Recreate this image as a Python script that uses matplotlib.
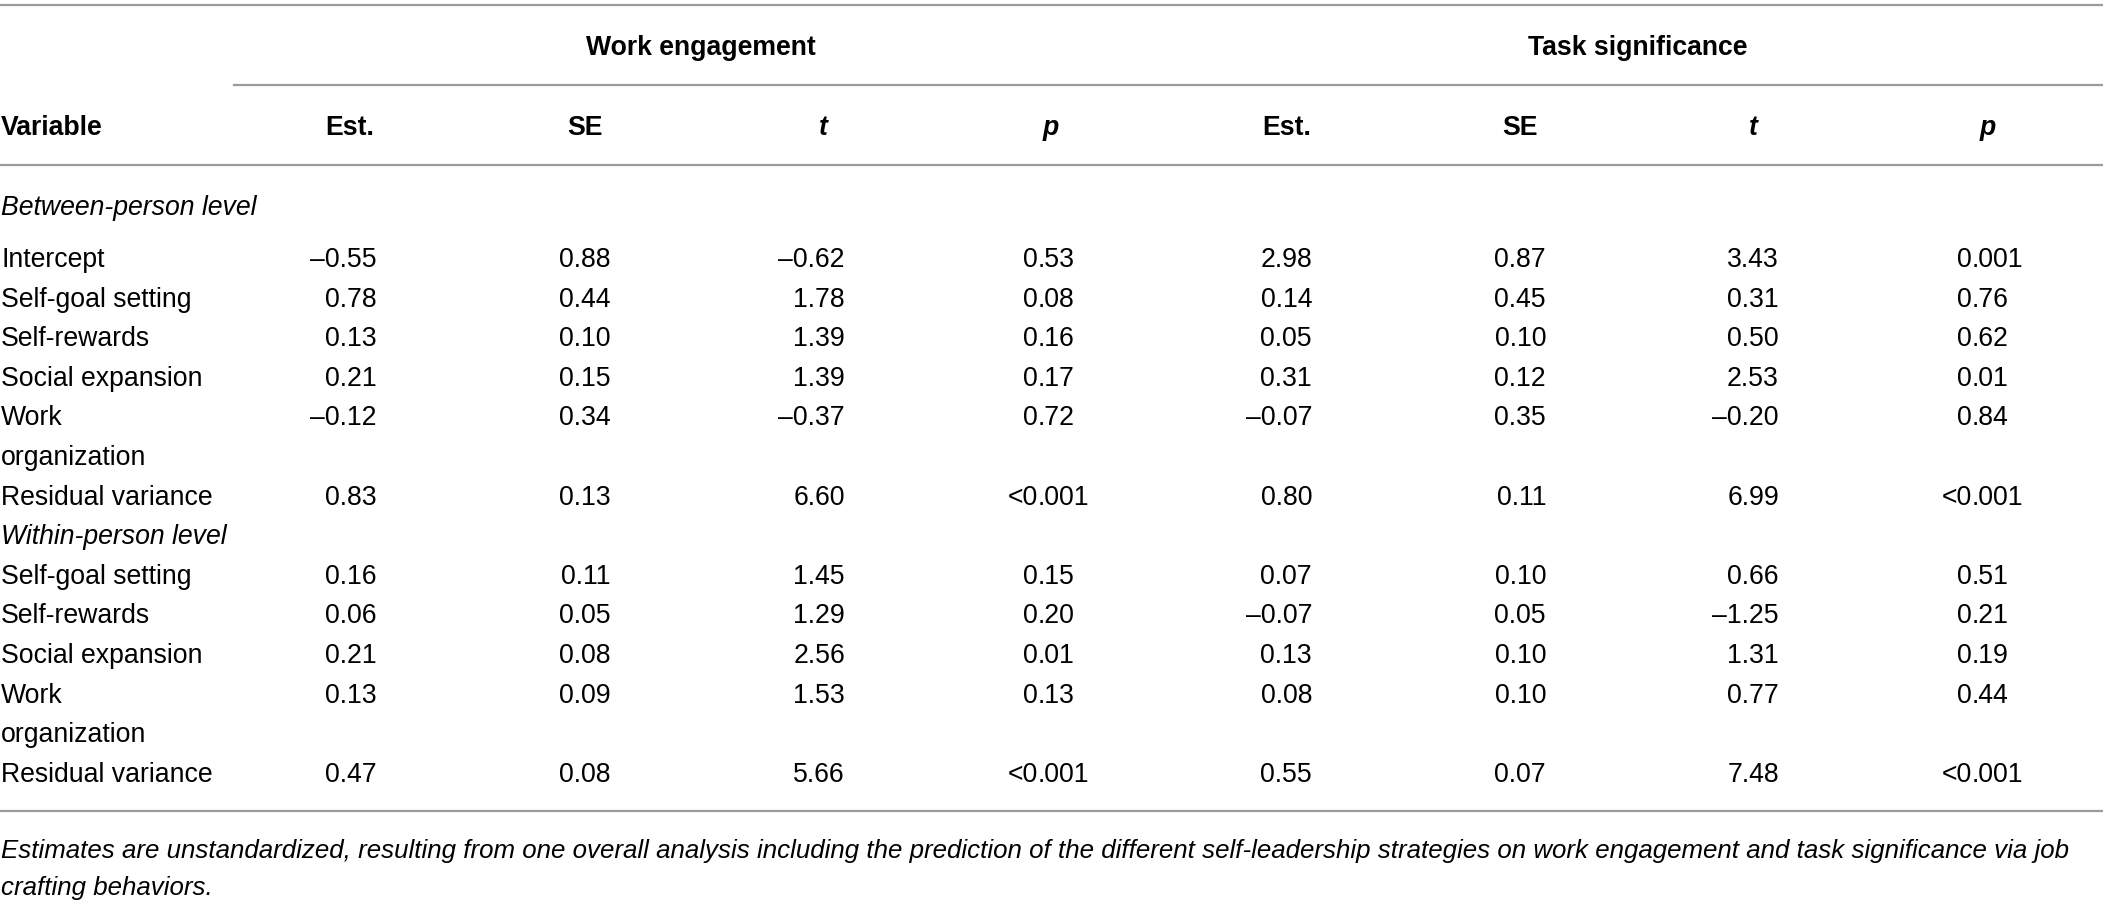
import matplotlib.pyplot as plt

plt.rcParams['font.family'] = ['Liberation Sans', 'DejaVu Sans']

groups = ["Work engagement", "Task significance"]
columns = ["Est.", "SE", "t", "p"]

sections = ["Between-person level", "Within-person level"]
between_labels = ["Intercept", "Self-goal setting", "Self-rewards", "Social expansion",
                  "Work\norganization", "Residual variance"]
within_labels = ["Self-goal setting", "Self-rewards", "Social expansion",
                 "Work\norganization", "Residual variance"]

# work engagement
we_est = [-0.55, 0.78, 0.13, 0.21, -0.12, 0.83, 0.16, 0.06, 0.21, 0.13, 0.47]
we_se = [0.88, 0.44, 0.10, 0.15, 0.34, 0.13, 0.11, 0.05, 0.08, 0.09, 0.08]
we_t = [-0.62, 1.78, 1.39, 1.39, -0.37, 6.60, 1.45, 1.29, 2.56, 1.53, 5.66]
we_p = ["0.53", "0.08", "0.16", "0.17", "0.72", "<0.001", "0.15", "0.20", "0.01", "0.13", "<0.001"]

# task significance
ts_est = [2.98, 0.14, 0.05, 0.31, -0.07, 0.80, 0.07, -0.07, 0.13, 0.08, 0.55]
ts_se = [0.87, 0.45, 0.10, 0.12, 0.35, 0.11, 0.10, 0.05, 0.10, 0.10, 0.07]
ts_t = [3.43, 0.31, 0.50, 2.53, -0.20, 6.99, 0.66, -1.25, 1.31, 0.77, 7.48]
ts_p = ["0.001", "0.76", "0.62", "0.01", "0.84", "<0.001", "0.51", "0.21", "0.19", "0.44", "<0.001"]

footnote = ["Estimates are unstandardized, resulting from one overall analysis including the prediction "
            "of the different self-leadership strategies on work engagement and task significance via job",
            "crafting behaviors."]

W, H = 2103, 900
fig = plt.figure(figsize=(W / 100, H / 100), dpi=100)
ax = fig.add_axes([0, 0, 1, 1])
ax.set_xlim(0, W)
ax.set_ylim(H, 0)
ax.axis('off')

fs = 19.2
line_kw = dict(color='#9b9b9b', lw=1.6)


def fmt(v):
    return f"{v:.2f}".replace("-", "\u2013")


# column geometry (pixels)
right_edges = [[377, 611, 845], [1312, 1546, 1779]]
p_decimal = [1038, 1972]
col_centers = [[350, 585, 823, 1051], [1287, 1520, 1753, 1988]]

# rules
ax.plot([0, W], [5, 5], **line_kw)
ax.plot([234, W], [85, 85], **line_kw)
ax.plot([0, W], [165, 165], **line_kw)
ax.plot([0, W], [811, 811], **line_kw)

# headers
for g, name in enumerate(groups):
    cx = (col_centers[g][0] + col_centers[g][-1]) / 2
    ax.text(cx, 55, name, ha='center', va='baseline', fontsize=fs, fontweight='bold')
    for c, col in enumerate(columns):
        style = 'italic' if col in ("t", "p") else 'normal'
        ax.text(col_centers[g][c], 135, col, ha='center', va='baseline', fontsize=fs,
                fontweight='bold', fontstyle=style)
ax.text(1, 135, "Variable", ha='left', va='baseline', fontsize=fs, fontweight='bold')

# body
base0, pitch = 267, 39.6
ax.text(1, 215, sections[0], ha='left', va='baseline', fontsize=fs, fontstyle='italic')

data = [[we_est, we_se, we_t, we_p], [ts_est, ts_se, ts_t, ts_p]]
slot = 0
row = 0
for s, labels in enumerate([between_labels, within_labels]):
    if s == 1:
        ax.text(1, base0 + slot * pitch, sections[1], ha='left', va='baseline',
                fontsize=fs, fontstyle='italic')
        slot += 1
    for lab in labels:
        y = base0 + slot * pitch
        parts = lab.split("\n")
        for k, part in enumerate(parts):
            ax.text(1, y + k * pitch, part, ha='left', va='baseline', fontsize=fs)
        for g in range(2):
            est, se, t, p = data[g]
            for c, vals in enumerate([est, se, t]):
                ax.text(right_edges[g][c], y, fmt(vals[row]), ha='right', va='baseline', fontsize=fs)
            whole, frac = p[row].split(".")
            ax.text(p_decimal[g], y, whole, ha='right', va='baseline', fontsize=fs)
            ax.text(p_decimal[g], y, "." + frac, ha='left', va='baseline', fontsize=fs)
        slot += len(parts)
        row += 1

# footnote
for k, txt in enumerate(footnote):
    ax.text(1, 858 + k * 37, txt, ha='left', va='baseline', fontsize=18.6, fontstyle='italic')

fig.savefig("out.png", dpi=100)
